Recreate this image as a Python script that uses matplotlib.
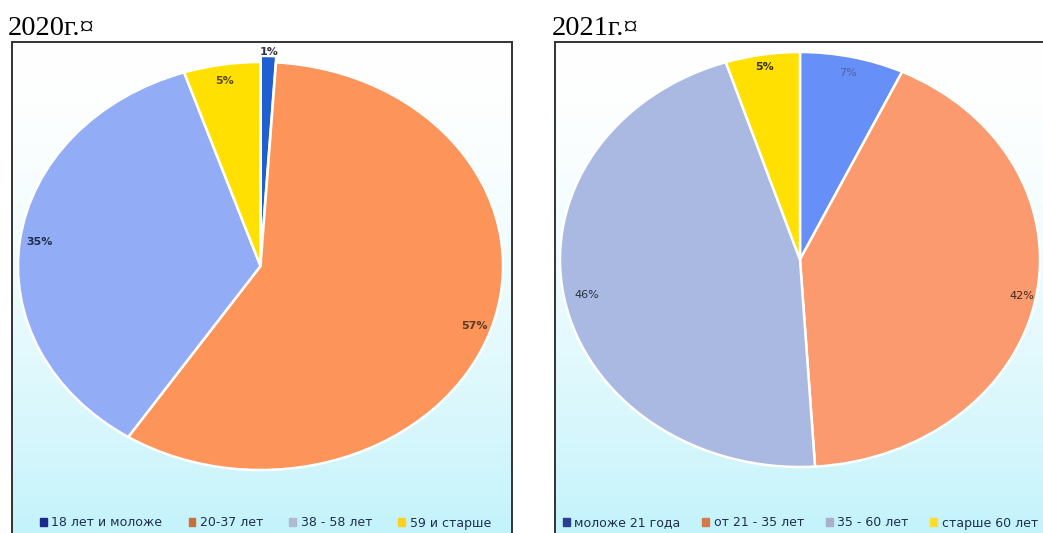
import matplotlib.pyplot as plt
import matplotlib.patches as mpatches
import numpy as np

# data
titles = ['2020г.¤', '2021г.¤']

labels_2020 = ['18 лет и моложе', '20-37 лет', '38 - 58 лет', '59 и старше']
values_2020 = [1, 57, 35, 5]
pct_2020 = ['1%', '57%', '35%', '5%']

labels_2021 = ['моложе 21 года', 'от 21 - 35 лет', '35 - 60 лет', 'старше 60 лет']
values_2021 = [7, 42, 46, 5]
pct_2021 = ['7%', '42%', '46%', '5%']

colors_2020 = ['#1f5fd2', '#fd945a', '#93acf6', '#ffe000']
colors_2021 = ['#6690f8', '#fb9a6e', '#a9b9e2', '#ffe000']
legend_cols_2020 = ['#1c2a8c', '#c8703a', '#b0b8d2', '#ffd020']
legend_cols_2021 = ['#2a3f8f', '#d77a4a', '#a8b0cc', '#ffdc30']

W, H = 1043, 533
fig = plt.figure(figsize=(W / 100, H / 100), dpi=100)
fig.patch.set_facecolor('white')


def fx(px):
    return px / W


def fy(py):
    return 1 - py / H


# background gradient (white -> pale cyan)
grad = np.linspace(0, 1, 256) ** 1.6
bg_img = np.ones((256, 1, 3))
bot = np.array([196, 243, 251]) / 255
for k in range(3):
    bg_img[:, 0, k] = 1 + (bot[k] - 1) * grad


def panel(x0, x1, y0):
    ax = fig.add_axes([fx(x0), 0, fx(x1 - x0), fy(y0)])
    ax.imshow(bg_img, aspect='auto', extent=[0, 1, 0, 1], origin='upper')
    ax.set_xlim(0, 1)
    ax.set_ylim(0, 1)
    ax.set_xticks([])
    ax.set_yticks([])
    for s in ax.spines.values():
        s.set_color('#333333')
        s.set_linewidth(1.4)
    ax.spines['bottom'].set_visible(False)
    return ax


def draw_pie(box, values, colors, pcts, dists, explode, pct_colors, pct_weights):
    x0, x1, y0, y1 = box
    ax = fig.add_axes([fx(x0), fy(y1), fx(x1 - x0), fy(y0) - fy(y1)])
    wedges, _ = ax.pie(values, colors=colors, startangle=90, counterclock=False,
                       explode=explode,
                       wedgeprops=dict(edgecolor='white', linewidth=1.8))
    ax.set_aspect('auto')
    ax.set_xlim(-1, 1)
    ax.set_ylim(-1, 1)
    ax.axis('off')
    for i, w in enumerate(wedges):
        w.set_clip_on(False)
        mid = np.deg2rad((w.theta1 + w.theta2) / 2)
        cx, cy = w.center
        ax.text(cx + dists[i] * np.cos(mid), cy + dists[i] * np.sin(mid), pcts[i],
                ha='center', va='center', fontsize=8, color=pct_colors[i],
                fontweight=pct_weights[i], clip_on=False)
    return ax


def legend(x_left, labels, cols, spacing):
    handles = [mpatches.Patch(color=c) for c in cols]
    fig.legend(handles, labels, loc='center left', bbox_to_anchor=(fx(x_left), fy(523)),
               ncol=4, frameon=False, handlelength=0.55, handleheight=0.55,
               handletextpad=0.35, columnspacing=spacing, borderaxespad=0,
               borderpad=0, prop=dict(family='DejaVu Sans', size=9),
               labelcolor='#1f2d50')


# 2020
panel(12, 512, 42)
draw_pie((18, 503, 62, 470), values_2020, colors_2020, pct_2020,
         [1.02, 0.93, 0.92, 0.92], [0.03, 0, 0, 0],
         ['#333344', '#5a3a28', '#1f3050', '#5a4a10'], ['bold'] * 4)
legend(40, labels_2020, legend_cols_2020, 2.1)
fig.text(fx(8), fy(35), titles[0], family='Liberation Serif', fontsize=20.5,
         va='baseline', ha='left', color='black')

# 2021
panel(555, 1060, 42)
draw_pie((560, 1040, 52, 467), values_2021, colors_2021, pct_2021,
         [0.92, 0.94, 0.905, 0.94], [0, 0, 0, 0],
         ['#4a64a0', '#3a2a20', '#2a3040', '#3a3210'],
         ['normal', 'normal', 'normal', 'bold'])
legend(563, labels_2021, legend_cols_2021, 1.75)
fig.text(fx(552), fy(35), titles[1], family='Liberation Serif', fontsize=20.5,
         va='baseline', ha='left', color='black')

fig.savefig('out.png', dpi=100)
